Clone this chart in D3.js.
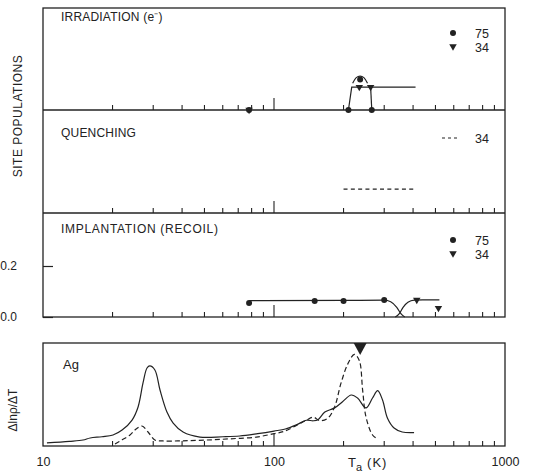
<!DOCTYPE html>
<html>
<head>
<meta charset="utf-8">
<script src="https://cdn.jsdelivr.net/npm/d3@7"></script>
<style>
  body { margin: 0; background: #fff; }
  text { font-family: "Liberation Sans", Arial, sans-serif; fill: #222; }
</style>
</head>
<body>
<div class="chart"></div>
<script>
var width = 533,
    height = 475,
    ink = "#222";

// panel titles
var panelTitles = ["IRRADIATION (e\u207B)", "QUENCHING", "IMPLANTATION (RECOIL)"];
var xLabels = [10, 100, 1000];
var yImplTicks = [0.0, 0.2];

// irradiation (e-) : site populations
var irr75T = [78, 210, 236, 265],
    irr75V = [0, 0, 0.12, 0],
    irr34T = [78, 234, 262],
    irr34V = [0, 0.09, 0.09];
var irrRiseT = [210, 217, 410],
    irrRiseV = [0, 0.09, 0.09],
    irrArcT = [219, 227, 236, 245, 254],
    irrArcV = [0.105, 0.127, 0.133, 0.127, 0.105],
    irrFallT = [262, 265],
    irrFallV = [0.09, 0];

// quenching
var quenchT = [200, 410],
    quenchV = [0.094, 0.094];

// implantation (recoil)
var impl75T = [78, 150, 200, 300],
    impl75V = [0.055, 0.063, 0.063, 0.067],
    impl34T = [415, 515],
    impl34V = [0.067, 0.035];
var impl75FitT = [78, 200, 300, 320, 340, 355, 368],
    impl75FitV = [0.064, 0.065, 0.066, 0.06, 0.038, 0.012, 0],
    impl34FitT = [335, 348, 362, 380, 405, 440, 520],
    impl34FitV = [0, 0.012, 0.038, 0.058, 0.066, 0.067, 0.067];

// Ag : dln(rho)/dT
var solidT = [10.4, 13, 14.9, 16, 18, 20.1, 22, 24.3, 25.8, 27.1, 28.2, 29, 30.5, 32.1, 34.4, 36.6, 40.4, 47.8, 60, 71, 85, 100, 112, 125, 138, 148, 155, 166, 183, 198, 216, 230, 250, 267, 281, 295, 310, 331, 359, 404],
    solidV = [0.03, 0.045, 0.058, 0.078, 0.09, 0.107, 0.155, 0.252, 0.379, 0.612, 0.757, 0.777, 0.738, 0.544, 0.33, 0.223, 0.136, 0.087, 0.09, 0.097, 0.12, 0.145, 0.165, 0.205, 0.25, 0.245, 0.255, 0.33, 0.37, 0.43, 0.495, 0.466, 0.37, 0.466, 0.537, 0.447, 0.27, 0.175, 0.136, 0.13];
var dashT = [20.5, 22, 23.8, 25.3, 26.8, 28.5, 30.5, 33, 40, 51, 65, 84, 100, 110, 125, 138, 148, 158, 171, 183, 195, 209, 223, 234, 242, 250, 267, 281],
    dashV = [0.02, 0.06, 0.107, 0.165, 0.194, 0.136, 0.058, 0.049, 0.05, 0.058, 0.07, 0.087, 0.12, 0.14, 0.2, 0.25, 0.28, 0.246, 0.27, 0.38, 0.61, 0.80, 0.89, 0.83, 0.54, 0.285, 0.107, 0.068];
var markerT = [236];

var x = d3.scaleLog()
    .domain([10, 1000])
    .range([43, 505]);

var panelBottoms = [110, 213, 317];
var ys = panelBottoms.map(function(b){
  return d3.scaleLinear().domain([0, 0.4]).range([b, b - 102]);
});
var yAg = d3.scaleLinear().domain([0, 1]).range([446, 343]);

var svg = d3.select(".chart")
    .append("svg")
    .attr("width", width)
    .attr("height", height);

svg.append("rect")
    .attr("width", width)
    .attr("height", height)
    .attr("fill", "#fff");

function pts(ts, vs){
  return ts.map(function(t, i){ return [t, vs[i]]; });
}

var xTicks = x.ticks().filter(function(d){ return d > 10 && d < 1000; });

function drawTicks(yBottom){
  svg.append("g")
      .attr("class", "xticks")
      .selectAll("line")
      .data(xTicks)
      .enter()
      .append("line")
      .attr("x1", function(d){ return x(d); })
      .attr("x2", function(d){ return x(d); })
      .attr("y1", yBottom)
      .attr("y2", function(d){ return d == 100 ? yBottom - 12 : yBottom - 5; })
      .attr("stroke", ink)
      .attr("stroke-width", 1.1);
}

// frames
svg.append("rect")
    .attr("x", 43).attr("y", 8)
    .attr("width", 462).attr("height", 309)
    .attr("fill", "none").attr("stroke", ink).attr("stroke-width", 1.3);
[110, 213].forEach(function(b){
  svg.append("line")
      .attr("x1", 43).attr("x2", 505)
      .attr("y1", b).attr("y2", b)
      .attr("stroke", ink).attr("stroke-width", 1.3);
});
svg.append("rect")
    .attr("x", 43).attr("y", 343)
    .attr("width", 462).attr("height", 103)
    .attr("fill", "none").attr("stroke", ink).attr("stroke-width", 1.3);

panelBottoms.forEach(drawTicks);
drawTicks(446);

// x labels
var xa = svg.append("g")
    .attr("transform", "translate(0,446)")
    .call(d3.axisBottom(x).tickValues(xLabels).tickSize(0).tickPadding(11).tickFormat(d3.format("d")));
xa.select(".domain").remove();
xa.selectAll("text")
    .style("font-family", "Liberation Sans, Arial, sans-serif")
    .style("font-size", "12.5px")
    .attr("fill", ink);

var xt = svg.append("text")
    .attr("x", 348).attr("y", 467)
    .style("font-size", "13px");
xt.append("tspan").text("T");
xt.append("tspan").attr("dy", 4).style("font-size", "11px").text("a");
xt.append("tspan").attr("dy", -4).attr("dx", 5).style("letter-spacing", "1px").text("(K)");

// y axis of implantation panel
var ya = svg.append("g")
    .attr("transform", "translate(43,0)")
    .call(d3.axisLeft(ys[2]).tickValues(yImplTicks).tickSize(-10).tickPadding(26).tickFormat(d3.format(".1f")));
ya.select(".domain").remove();
ya.selectAll("line").attr("stroke", ink).attr("stroke-width", 1.2);
ya.selectAll("text")
    .style("font-family", "Liberation Sans, Arial, sans-serif")
    .style("font-size", "12px")
    .attr("fill", ink);

svg.append("text")
    .attr("transform", "translate(22,116) rotate(-90)")
    .attr("text-anchor", "middle")
    .style("font-size", "12px")
    .style("letter-spacing", "0.5px")
    .text("SITE POPULATIONS");

svg.append("text")
    .attr("transform", "translate(17,410) rotate(-90)")
    .attr("text-anchor", "middle")
    .style("font-size", "12px")
    .text("\u0394ln\u03C1/\u0394T");

// titles
[21, 137, 233].forEach(function(yb, i){
  svg.append("text")
      .attr("x", 61).attr("y", yb)
      .style("font-size", "12px")
      .style("letter-spacing", i == 2 ? "0.7px" : "0.2px")
      .text(panelTitles[i]);
});
svg.append("text")
    .attr("x", 63).attr("y", 369)
    .style("font-size", "13px")
    .text("Ag");

var line = d3.line()
    .x(function(d){ return x(d[0]); });

function addLine(data, yScale, curve, dash){
  svg.append("path")
      .datum(data)
      .attr("d", line.y(function(d){ return yScale(d[1]); }).curve(curve))
      .attr("fill", "none")
      .attr("stroke", ink)
      .attr("stroke-width", 1.2)
      .attr("stroke-dasharray", dash || null);
}

var tri = d3.symbol().type(d3.symbolTriangle).size(24);

function addCircles(data, yScale){
  svg.append("g").selectAll("circle")
      .data(data)
      .enter()
      .append("circle")
      .attr("cx", function(d){ return x(d[0]); })
      .attr("cy", function(d){ return yScale(d[1]); })
      .attr("r", 3)
      .attr("fill", ink);
}

function addTris(data, yScale){
  svg.append("g").selectAll("path")
      .data(data)
      .enter()
      .append("path")
      .attr("d", tri)
      .attr("transform", function(d){ return "translate(" + x(d[0]) + "," + yScale(d[1]) + ") rotate(180)"; })
      .attr("fill", ink);
}

// panel 1
addLine(pts(irrRiseT, irrRiseV), ys[0], d3.curveLinear);
addLine(pts(irrArcT, irrArcV), ys[0], d3.curveCatmullRom);
addLine(pts(irrFallT, irrFallV), ys[0], d3.curveLinear);
addCircles(pts(irr75T, irr75V), ys[0]);
addTris(pts(irr34T, irr34V), ys[0]);

// panel 2
addLine(pts(quenchT, quenchV), ys[1], d3.curveLinear, "4,3.3");

// panel 3
addLine(pts(impl75FitT, impl75FitV), ys[2], d3.curveMonotoneX);
addLine(pts(impl34FitT, impl34FitV), ys[2], d3.curveMonotoneX);
addCircles(pts(impl75T, impl75V), ys[2]);
addTris(pts(impl34T, impl34V), ys[2]);

// Ag panel
addLine(pts(solidT, solidV), yAg, d3.curveCatmullRom.alpha(0.5));
addLine(pts(dashT, dashV), yAg, d3.curveCatmullRom.alpha(0.5), "5,3");

svg.selectAll(".marker")
    .data(markerT)
    .enter()
    .append("path")
    .attr("class", "marker")
    .attr("d", function(d){
      var cx = x(d);
      return "M" + (cx - 6.5) + ",343L" + (cx + 6.5) + ",343L" + cx + ",355Z";
    })
    .attr("fill", ink);

// legends
function legend(yTop, items){
  items.forEach(function(it, i){
    var yy = yTop + i * 13.5;
    if (it.sym == "c") {
      svg.append("circle").attr("cx", 453).attr("cy", yy).attr("r", 3).attr("fill", ink);
    } else if (it.sym == "t") {
      svg.append("path").attr("d", tri).attr("transform", "translate(453," + yy + ") rotate(180)").attr("fill", ink);
    } else {
      svg.append("line").attr("x1", 442).attr("x2", 459).attr("y1", yy).attr("y2", yy)
          .attr("stroke", ink).attr("stroke-width", 1.1).attr("stroke-dasharray", "3,3");
    }
    svg.append("text")
        .attr("x", 475).attr("y", yy + 5)
        .style("font-size", "12.5px")
        .text(it.label);
  });
}
legend(33, [{sym: "c", label: "75"}, {sym: "t", label: "34"}]);
legend(138, [{sym: "d", label: "34"}]);
legend(240, [{sym: "c", label: "75"}, {sym: "t", label: "34"}]);
</script>
</body>
</html>
